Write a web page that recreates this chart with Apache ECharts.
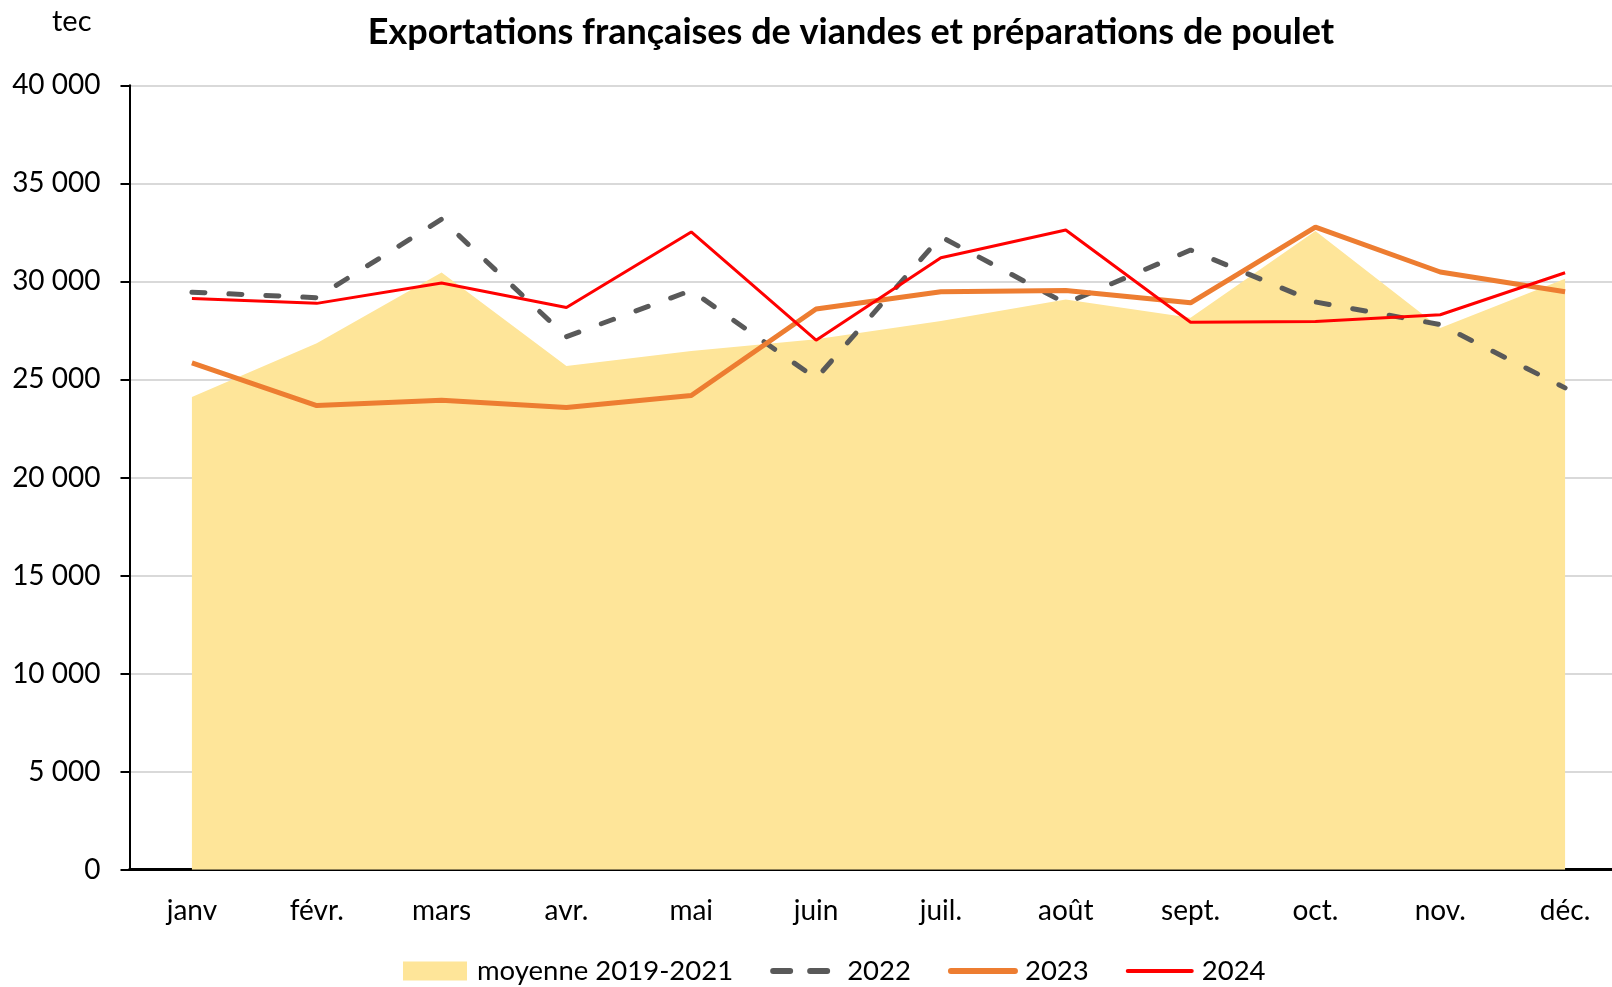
<!DOCTYPE html>
<html><head><meta charset="utf-8">
<script src="https://cdn.jsdelivr.net/npm/echarts@6/dist/echarts.min.js"></script>
<style>html,body{margin:0;padding:0;background:#fff;overflow:hidden;width:1612px;height:987px}#c{width:1630px;height:987px}</style>
</head><body><div id="c"></div>
<script>
const categories = ['janv','févr.','mars','avr.','mai','juin','juil.','août','sept.','oct.','nov.','déc.'];
const moyenne = [24100, 26850, 30450, 25680, 26450, 27050, 27980, 29080, 28150, 32570, 27630, 30140];
const y2022 = [29450, 29170, 33170, 27180, 29540, 25050, 32280, 28880, 31600, 28950, 27800, 24570];
const y2023 = [25850, 23670, 23940, 23570, 24180, 28590, 29470, 29540, 28910, 32770, 30480, 29470];
const y2024 = [29130, 28880, 29920, 28670, 32520, 27000, 31210, 32620, 27920, 27960, 28300, 30440];
const yTicks = [0, 5000, 10000, 15000, 20000, 25000, 30000, 35000, 40000];

const FONT = 'Lato';
const chart = echarts.init(document.getElementById('c'));
chart.setOption({
  backgroundColor: '#fff',
  animation: false,
  textStyle: {fontFamily: FONT},
  title: {
    text: 'Exportations françaises de viandes et préparations de poulet',
    left: 846, top: 9, textAlign: 'center',
    textStyle: {fontFamily: FONT, fontWeight: 'bold', fontSize: 36, color: '#000'}
  },
  graphic: [{type: 'text', left: 52, top: 7, style: {text: 'tec', font: '29px ' + FONT, fill: '#000'}}],
  legend: {
    left: 398, top: 952,
    itemWidth: 64, itemHeight: 19, itemGap: 37,
    textStyle: {fontFamily: FONT, fontSize: 27.5, color: '#000', padding: [0, 0, 0, 5]},
    data: [
      {name: 'moyenne 2019-2021', icon: 'rect'},
      {name: '2022', itemStyle: {opacity: 0}, lineStyle: {width: 6, type: [17, 20], cap: 'round'}},
      {name: '2023', itemStyle: {opacity: 0}, lineStyle: {width: 6, cap: 'round'}},
      {name: '2024', itemStyle: {opacity: 0}, lineStyle: {width: 4, cap: 'round'}}
    ]
  },
  grid: {left: 129.5, top: 85.3, bottom: 117.3, width: 1498, containLabel: false},
  xAxis: {
    type: 'category', data: categories, boundaryGap: true,
    axisLine: {lineStyle: {color: '#000', width: 3}},
    axisTick: {show: false},
    axisLabel: {color: '#000', fontSize: 28, fontFamily: FONT, margin: 27}
  },
  yAxis: {
    type: 'value', min: yTicks[0], max: yTicks[yTicks.length - 1], interval: 5000,
    axisLine: {show: true, lineStyle: {color: '#000', width: 2}},
    axisTick: {show: true, length: 9, lineStyle: {color: '#000', width: 2}},
    splitLine: {lineStyle: {color: '#d9d9d9', width: 2}},
    axisLabel: {color: '#000', fontSize: 28, fontFamily: FONT, margin: 29,
      formatter: v => String(v).replace(/\B(?=(\d{3})+(?!\d))/g, ' ')}
  },
  series: [
    {name: 'moyenne 2019-2021', type: 'line', data: moyenne, symbol: 'none',
      itemStyle: {color: '#FEE599'}, lineStyle: {width: 0, color: '#FEE599'},
      areaStyle: {color: '#FEE599', opacity: 1}, z: 1},
    {name: '2022', type: 'line', data: y2022, symbol: 'none',
      itemStyle: {color: '#595959'},
      lineStyle: {color: '#595959', width: 5, type: [13, 24], cap: 'round'}, z: 3},
    {name: '2023', type: 'line', data: y2023, symbol: 'none',
      itemStyle: {color: '#ED7D31'},
      lineStyle: {color: '#ED7D31', width: 5}, z: 4},
    {name: '2024', type: 'line', data: y2024, symbol: 'none',
      itemStyle: {color: '#FF0000'},
      lineStyle: {color: '#FF0000', width: 3}, z: 5}
  ]
});
</script></body></html>
